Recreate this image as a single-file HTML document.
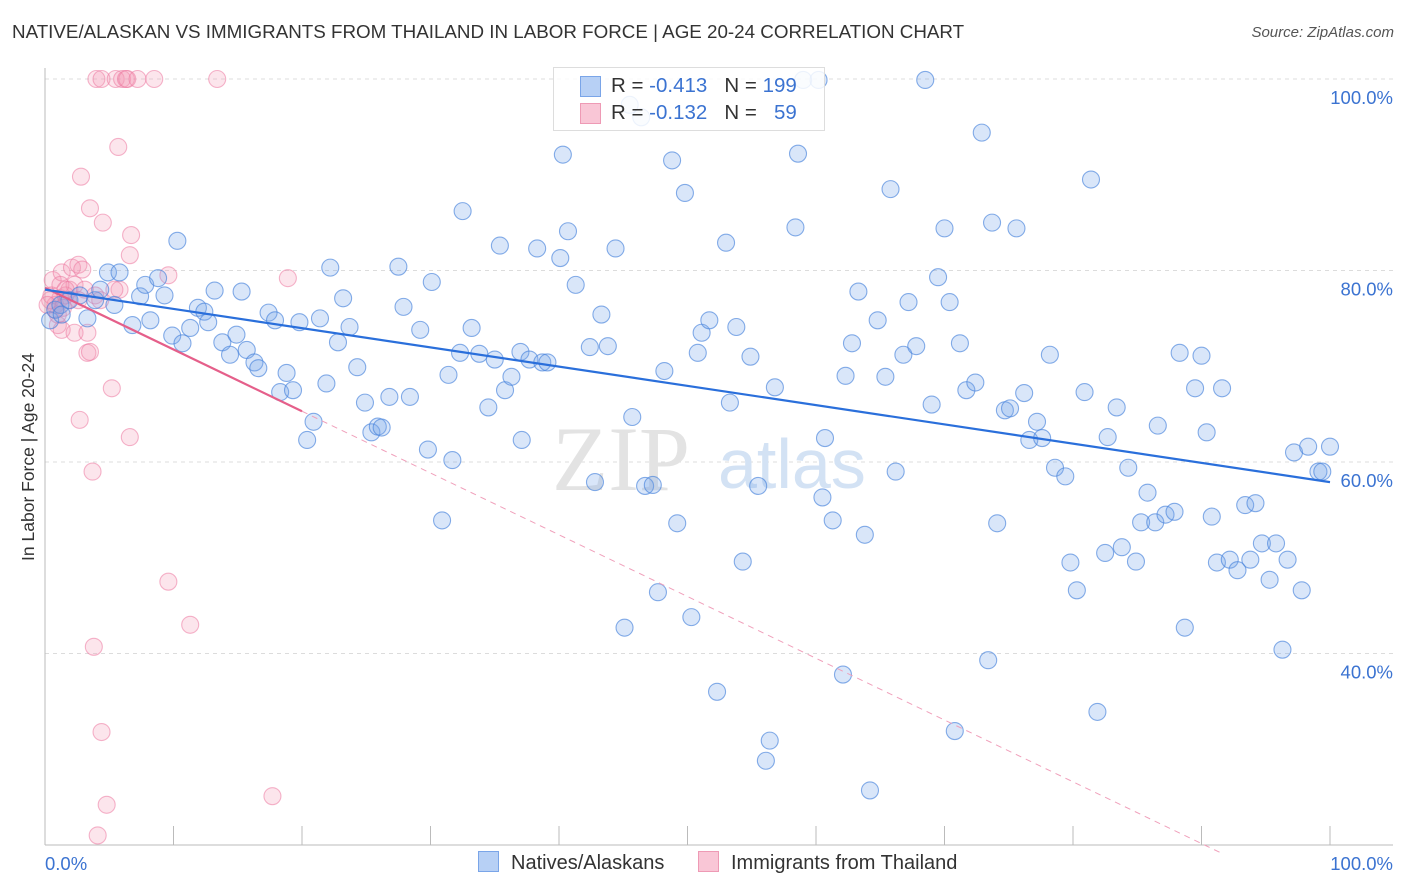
<!DOCTYPE html>
<html><head><meta charset="utf-8"><style>
body{margin:0;background:#fff;font-family:"Liberation Sans",sans-serif;}
#wrap{position:relative;width:1406px;height:892px;overflow:hidden;}
.t{position:absolute;white-space:nowrap;}
</style></head><body>
<div id="wrap">
<div class="t" style="left:12px;top:21px;font-size:18.8px;color:#333;">NATIVE/ALASKAN VS IMMIGRANTS FROM THAILAND IN LABOR FORCE | AGE 20-24 CORRELATION CHART</div>
<div class="t" style="right:12px;top:24px;font-size:15px;color:#555;font-style:italic;">Source: ZipAtlas.com</div>
<svg id="svg" width="1406" height="892" style="position:absolute;left:0;top:0"></svg>
</div>
<script>
const yTicks=[40,60,80,100];
const xTickLabels=["0.0%","100.0%"];
const blueX=[0.4,0.8,1.2,1.3,1.9,2.7,3.3,3.9,4.3,4.9,5.4,5.8,6.8,7.4,7.8,8.2,8.8,9.3,9.9,10.3,10.7,11.3,11.9,12.4,12.7,13.2,13.8,14.4,14.9,15.3,15.7,16.3,16.6,17.4,17.9,18.3,18.8,19.3,19.8,20.4,20.9,21.4,21.9,22.2,22.8,23.2,23.7,24.3,24.9,25.4,25.9,26.2,26.8,27.5,27.9,28.4,29.2,29.8,30.1,30.9,31.4,31.7,32.5,32.3,33.2,33.8,34.5,35.0,35.4,35.8,36.3,37.0,37.1,37.7,38.3,38.7,39.1,40.1,40.3,40.7,41.3,42.4,42.8,43.3,43.8,44.4,45.1,45.5,45.7,46.4,46.7,47.3,47.7,48.2,48.8,49.2,49.8,50.3,50.8,51.1,51.7,52.3,53.0,53.3,53.8,54.3,54.9,55.5,56.1,56.4,56.8,58.4,58.6,59.0,60.2,60.5,60.7,61.3,62.1,62.3,62.8,63.3,63.8,64.2,64.8,65.4,65.8,66.2,66.8,67.2,67.8,68.5,69.0,69.5,70.0,70.4,70.8,71.2,71.7,72.4,72.9,73.4,73.7,74.1,74.7,75.1,75.6,76.2,76.6,77.2,77.6,78.2,78.6,79.4,79.8,80.3,80.9,81.4,81.9,82.5,82.7,83.4,83.8,84.3,84.9,85.3,85.8,86.4,86.6,87.2,87.9,88.3,88.7,89.5,90.0,90.4,90.8,91.2,91.6,92.2,92.8,93.4,93.8,94.2,94.7,95.3,95.8,96.3,96.7,97.2,97.8,98.3,99.1,99.4,100];
const blueY=[74.8,75.9,76.4,75.4,76.9,77.4,75.0,76.9,78.0,79.8,76.4,79.8,74.3,77.3,78.5,74.8,79.2,77.4,73.2,83.1,72.4,74.0,76.1,75.7,74.6,77.9,72.5,71.2,73.3,77.8,71.7,70.4,69.8,75.6,74.8,67.3,69.3,67.5,74.6,62.3,64.2,75.0,68.2,80.3,72.5,77.1,74.1,69.9,66.2,63.1,63.7,63.6,66.8,80.4,76.2,66.8,73.8,61.3,78.8,53.9,69.1,60.2,86.2,71.4,74.0,71.3,65.7,70.7,82.6,67.5,68.9,71.5,62.3,70.7,82.3,70.4,70.4,81.3,92.1,84.1,78.5,72.0,57.9,75.4,72.1,82.3,42.7,97.3,64.7,96.0,57.5,57.6,46.4,69.5,91.5,53.6,88.1,43.8,71.4,73.5,74.8,36.0,82.9,66.2,74.1,49.6,71.0,57.5,28.8,30.9,67.8,84.5,92.2,99.9,99.9,56.3,62.5,53.9,37.8,69.0,72.4,77.8,52.4,25.7,74.8,68.9,88.5,59.0,71.2,76.7,72.1,99.9,66.0,79.3,84.4,76.7,31.9,72.4,67.5,68.3,94.4,39.3,85.0,53.6,65.4,65.6,84.4,67.2,62.3,64.2,62.5,71.2,59.4,58.5,49.5,46.6,67.3,89.5,33.9,50.5,62.6,65.7,51.1,59.4,49.6,53.7,56.8,53.7,63.8,54.5,54.8,71.4,42.7,67.7,71.1,63.1,54.3,49.5,67.7,49.8,48.7,55.5,49.8,55.7,51.5,47.7,51.5,40.4,49.8,61.0,46.6,61.6,59.0,59.0,61.6];
const pinkX=[4.0,4.4,5.5,6.0,6.3,6.4,7.2,8.5,13.4,5.7,2.8,3.5,4.5,6.7,6.6,9.6,18.9,0.6,1.3,2.1,2.6,2.9,1.9,2.3,3.1,3.9,1.2,0.8,1.0,1.3,2.3,3.3,3.3,3.5,5.2,2.7,6.6,3.7,9.6,11.3,3.8,4.4,4.8,4.1,17.7,0.4,0.8,1.6,1.8,2.6,1.0,0.5,0.2,1.2,1.6,5.8,5.4,4.3,1.4];
const pinkY=[100,100,100,100,100,100,100,100,100,92.9,89.8,86.5,85.0,83.7,81.6,79.5,79.2,79.0,79.8,80.3,80.6,80.1,78.0,78.5,78.0,77.4,77.1,75.9,74.3,73.8,73.5,73.5,71.4,71.5,67.7,64.4,62.6,59.0,47.5,43.0,40.7,31.8,24.2,21.0,25.1,76.9,76.4,77.4,76.9,76.9,75.4,77.4,76.4,78.5,78.0,78.0,78.0,76.9,76.1];
const blueTrend=[78.0,57.9];
const pinkTrend=[78.2,65.3];

const X0=45,X1=1330,Y100=79,PXPER=9.575;
const sx=v=>X0+(X1-X0)*v/100;
const sy=v=>Y100+(100-v)*PXPER;
const svg=document.getElementById('svg');
const NS='http://www.w3.org/2000/svg';
function mk(tag,attrs,parent){const e=document.createElementNS(NS,tag);for(const k in attrs)e.setAttribute(k,attrs[k]);(parent||svg).appendChild(e);return e;}

yTicks.forEach(v=>{
  const g=mk('line',{x1:45,x2:1393,y1:sy(v),y2:sy(v),stroke:'#dcdcdc','stroke-dasharray':'4,4','stroke-width':1});
  
  
  const t=mk('text',{x:1393,y:sy(v)+25,'text-anchor':'end','font-size':18.5,fill:'#3b73d1','font-family':'Liberation Sans, sans-serif'});
  t.textContent=v.toFixed(1)+'%';
  
  
});
const ax=mk('line',{x1:45,x2:45,y1:68,y2:845,stroke:'#bbb','stroke-width':1});


const bx=mk('line',{x1:45,x2:1393,y1:845,y2:845,stroke:'#bbb','stroke-width':1});


for(let i=0;i<=10;i++){
  const tk=mk('line',{x1:sx(i*10),x2:sx(i*10),y1:826,y2:845,stroke:'#bbb','stroke-width':1});
  
  
}
const xl0=mk('text',{x:45,y:870,'font-size':18.5,fill:'#3b73d1','font-family':'Liberation Sans, sans-serif'});
xl0.textContent=xTickLabels[0];


const xl1=mk('text',{x:1393,y:870,'text-anchor':'end','font-size':18.5,fill:'#3b73d1','font-family':'Liberation Sans, sans-serif'});
xl1.textContent=xTickLabels[1];


const yt=mk('text',{x:0,y:0,'font-size':17.5,fill:'#333','text-anchor':'middle','font-family':'Liberation Sans, sans-serif',transform:'translate(34,457) rotate(-90)'});
yt.textContent='In Labor Force | Age 20-24';


const w1=mk('text',{x:552,y:490,'font-size':92,fill:'#e3e3e3','font-family':'Liberation Serif, serif'});
w1.textContent='ZIP';


const w2=mk('text',{x:718,y:488,'font-size':70,fill:'#d3e2f4','font-family':'Liberation Sans, sans-serif'});
w2.textContent='atlas';


pinkX.forEach((x,i)=>{
  const c=mk('circle',{cx:sx(x),cy:sy(pinkY[i]),r:8.5,fill:'rgba(244,150,180,0.25)',stroke:'rgba(236,120,160,0.55)','stroke-width':1.1});
  
  
});
blueX.forEach((x,i)=>{
  const c=mk('circle',{cx:sx(x),cy:sy(blueY[i]),r:8.5,fill:'rgba(120,165,235,0.28)',stroke:'rgba(70,130,220,0.65)','stroke-width':1.1});
  
  
});
const pslope=(pinkTrend[1]-pinkTrend[0])/20;
const xEnd=(20-pinkTrend[0])/pslope;
const pd=mk('line',{x1:sx(20),y1:sy(pinkTrend[1]),x2:sx(xEnd+1.2),y2:sy(pinkTrend[0]+pslope*(xEnd+1.2)),stroke:'#f0a0bb','stroke-width':1,'stroke-dasharray':'6,5'});


const pl=mk('line',{x1:sx(0),y1:sy(pinkTrend[0]),x2:sx(20),y2:sy(pinkTrend[1]),stroke:'#e55f8a','stroke-width':2.2});


const bl=mk('line',{x1:sx(0),y1:sy(blueTrend[0]),x2:sx(100),y2:sy(blueTrend[1]),stroke:'#2a6fdb','stroke-width':2.2});


</script>
<div class="t" style="left:553px;top:67px;width:270px;height:62px;border:1px solid #ddd;background:rgba(255,255,255,0.85);font-size:20.5px;">
  <div style="position:absolute;left:26px;top:8px;width:19px;height:19px;background:#b7d0f5;border:1px solid #7aa5e8;"></div>
  <div class="t" style="left:57px;top:6px;color:#333;">R = <span style="color:#3b73d1">-0.413</span>&nbsp;&nbsp;&nbsp;N = <span style="color:#3b73d1">199</span></div>
  <div style="position:absolute;left:26px;top:35px;width:19px;height:19px;background:#f9c6d6;border:1px solid #ee9ab5;"></div>
  <div class="t" style="left:57px;top:33px;color:#333;">R = <span style="color:#3b73d1">-0.132</span>&nbsp;&nbsp;&nbsp;N = &nbsp;&nbsp;<span style="color:#3b73d1">59</span></div>
</div>
<div class="t" style="left:478px;top:851px;font-size:20px;color:#333;"><span style="display:inline-block;width:19px;height:19px;background:#b7d0f5;border:1px solid #7aa5e8;vertical-align:-3px;margin-right:12px;"></span>Natives/Alaskans</div>
<div class="t" style="left:698px;top:851px;font-size:20px;color:#333;"><span style="display:inline-block;width:19px;height:19px;background:#f9c6d6;border:1px solid #ee9ab5;vertical-align:-3px;margin-right:12px;"></span>Immigrants from Thailand</div>
</body></html>
